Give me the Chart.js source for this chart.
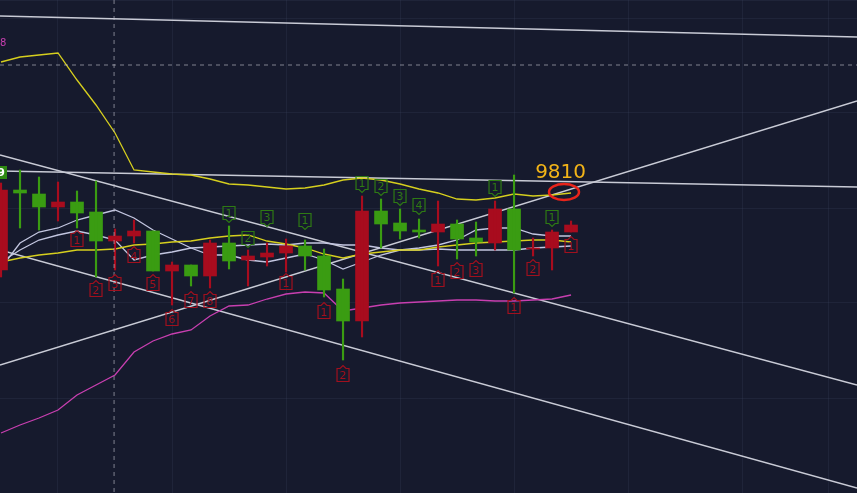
<!DOCTYPE html>
<html><head><meta charset="utf-8">
<script src="https://cdn.jsdelivr.net/npm/chart.js@4"></script>
<style>html,body{margin:0;padding:0;background:#161a2d;}#c{width:857px;height:493px;}</style>
</head><body><div id="c"><canvas id="cv"></canvas></div>
<script>
// values: y values are price units (higher = up), x = candle index
const H = 493;
const opens  = [223,300,299,286,280,252,252,257,222,222,217,217,232,233,236,240,237,203,172,282,269,262,263,261,254,251,250,243,245,245,261];
const closes = [303,303,286,291,291,281,257,262,262,228,228,250,250,237,240,247,247,237,204,172,282,270,261,269,269,255,284,284,244,261,268];
const highs  = [310,323,316,311,302,312,264,273,262,231,228,253,267,243,250,254,253,244,214,297,294,284,274,292,273,271,292,318,255,263,272];
const lows   = [216,265,263,272,265,216,223,250,222,188,207,205,224,207,227,221,223,196,133,156,245,254,255,227,234,237,243,200,237,223,261];
const up     = [0,1,1,0,1,1,0,0,1,0,1,0,1,0,0,0,1,1,1,0,1,1,1,0,1,1,0,1,0,0,0];
const maYellowTop = [431,436,438,440,413,388,360,323,321,319,318,314,309,308,306,304,305,308,313,315,313,309,304,300,294,293,295,299,297,298,300];
const maYellowLow = [231,235,238,240,243,243,244,248,249,251,252,255,257,258,252,249,245,239,235,239,241,243,243,246,248,250,251,252,253,253,251];
const maWhiteA = [225,250,261,265,273,278,283,275,263,254,245,238,238,233,231,235,239,233,224,231,238,243,245,248,253,263,265,265,259,257,257];
const maWhiteB = [231,243,253,258,262,258,253,233,238,241,245,246,247,248,249,248,250,250,248,248,245,243,243,244,243,243,243,243,245,246,247];
const maPink = [60,68,75,83,98,108,118,141,152,159,163,177,187,188,194,199,201,200,182,185,188,190,191,192,193,193,192,192,193,194,198];
const trendLines = [
  [[-0.053,477],[45.05,456]],
  [[-0.053,322],[45.05,306]],
  [[-0.053,128],[45.05,392]],
  [[-0.053,338],[45.05,108]],
  [[-0.053,243],[45.05,5]]
];
const markIdx  = [0,12,13,14,16,19,20,21,22,26,29, 4,5,6,7,8,9,10,11,15,17,18,23,24,25,27,28,30];
const markText = ['9','1','2','3','1','1','2','3','4','1','1', '1','2','3','4','5','6','7','8','1','1','2','1','2','3','1','2','1'];
const markVal  = [320,280,255,276,273,310,307,297,288,306,276, 253,203,209,237,209,174,192,192,210,181,118,213,221,223,186,224,247];
const markUp   = [1,1,1,1,1,1,1,1,1,1,1, 0,0,0,0,0,0,0,0,0,0,0,0,0,0,0,0,0];
const annotText = '9810';

const RED='#a80c1e', GREEN='#3a9c12';
const idx = opens.map((_,i)=>i);
const col = up.map(u=>u?GREEN:RED);
const line=(arr,c,w)=>({type:'line',data:arr.map((v,i)=>({x:i,y:v})),borderColor:c,borderWidth:w||1.3,pointRadius:0,tension:0,order:1});
const datasets=[];
trendLines.forEach(t=>datasets.push({type:'line',data:t.map(p=>({x:p[0],y:p[1]})),borderColor:'#c9cbd6',borderWidth:1.4,pointRadius:0,order:2}));
datasets.push(line(maYellowTop,'#d6cf1e'),line(maYellowLow,'#d6cf1e'),line(maWhiteA,'#c3c6e0'),line(maWhiteB,'#c3c6e0'),line(maPink,'#c83fb0'));
datasets.push({type:'bar',data:idx.map(i=>({x:i,y:[lows[i],highs[i]]})),backgroundColor:col,barThickness:1.5,grouped:false,order:0});
datasets.push({type:'bar',data:idx.map(i=>({x:i,y:[opens[i],closes[i]===opens[i]?opens[i]+1.5:closes[i]]})),backgroundColor:col,barThickness:13,grouped:false,order:0});

const bg={id:'bg',beforeDraw(c){const x=c.ctx;x.save();x.fillStyle='#161a2d';x.fillRect(0,0,c.width,c.height);x.restore();},
 afterDatasetsDraw(c){
  const ctx=c.ctx,xs=c.scales.x,ys=c.scales.y;ctx.save();
  ctx.strokeStyle='rgba(200,200,210,0.6)';ctx.setLineDash([4,4]);ctx.lineWidth=1;
  ctx.beginPath();ctx.moveTo(xs.getPixelForValue(5.95),0);ctx.lineTo(xs.getPixelForValue(5.95),H);ctx.stroke();
  ctx.beginPath();ctx.moveTo(0,ys.getPixelForValue(428));ctx.lineTo(857,ys.getPixelForValue(428));ctx.stroke();
  ctx.setLineDash([]);
  ctx.font='11px "DejaVu Sans"';ctx.textAlign='center';ctx.textBaseline='middle';
  markIdx.forEach((k,j)=>{
    const px=xs.getPixelForValue(k),py=ys.getPixelForValue(markVal[j]);
    const w=12,h=13;
    if(markIdx[j]===0){ctx.fillStyle='#2e8a12';ctx.fillRect(px-6,py-7,12,13);ctx.fillStyle='#fff';ctx.font='bold 11px "DejaVu Sans"';ctx.fillText(markText[j],px,py);ctx.font='11px "DejaVu Sans"';return;}
    const c2=markUp[j]?'#2e7a14':'#a0101e';ctx.strokeStyle=c2;ctx.fillStyle=c2;ctx.lineWidth=1.2;
    ctx.beginPath();
    if(markUp[j]){ctx.moveTo(px-w/2,py-h/2);ctx.lineTo(px+w/2,py-h/2);ctx.lineTo(px+w/2,py+h/2);ctx.lineTo(px+3,py+h/2);ctx.lineTo(px,py+h/2+3);ctx.lineTo(px-3,py+h/2);ctx.lineTo(px-w/2,py+h/2);ctx.closePath();}
    else{ctx.moveTo(px-w/2,py-h/2);ctx.lineTo(px-3,py-h/2);ctx.lineTo(px,py-h/2-3);ctx.lineTo(px+3,py-h/2);ctx.lineTo(px+w/2,py-h/2);ctx.lineTo(px+w/2,py+h/2);ctx.lineTo(px-w/2,py+h/2);ctx.closePath();}
    ctx.stroke();ctx.fillText(markText[j],px,py+1);
  });
  ctx.fillStyle='#f2b418';ctx.font='20px "DejaVu Sans"';ctx.fillText(annotText,xs.getPixelForValue(29.45),ys.getPixelForValue(320));
  ctx.strokeStyle='#e8241a';ctx.lineWidth=2.5;ctx.beginPath();ctx.ellipse(xs.getPixelForValue(29.63),ys.getPixelForValue(301),15,8,0,0,Math.PI*2);ctx.stroke();
  ctx.fillStyle='#c83fb0';ctx.font='10px "DejaVu Sans"';ctx.textAlign='left';ctx.fillText('8',0,ys.getPixelForValue(450));
  ctx.restore();}};

new Chart(document.getElementById('cv'),{data:{datasets},plugins:[bg],
 options:{responsive:true,maintainAspectRatio:false,animation:false,layout:{padding:0},
  plugins:{legend:{display:false},tooltip:{enabled:false}},
  scales:{
   x:{type:'linear',min:-0.053,max:45.05,offset:false,ticks:{display:false,stepSize:6},border:{display:false},grid:{color:'rgba(60,68,95,0.25)',drawTicks:false}},
   y:{type:'linear',min:0,max:493,ticks:{display:false,stepSize:95},border:{display:false},grid:{color:'rgba(60,68,95,0.25)',drawTicks:false}}
  }}});
</script></body></html>
